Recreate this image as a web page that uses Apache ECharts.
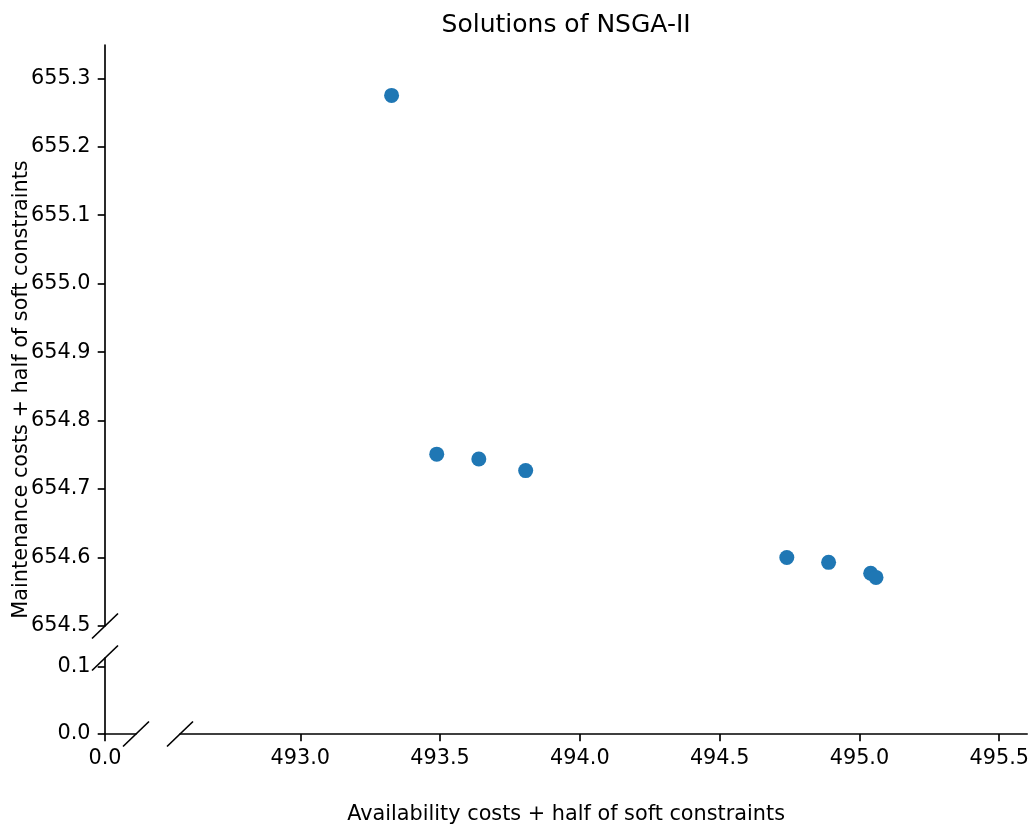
<!DOCTYPE html>
<html>
<head>
<meta charset="utf-8">
<title>Solutions of NSGA-II</title>
<script src="https://cdn.jsdelivr.net/npm/echarts@6/dist/echarts.min.js"></script>
<style>
  html, body { margin: 0; padding: 0; background: #ffffff; }
  #chart { width: 1032px; height: 826px; }
</style>
</head>
<body>
<div id="chart"></div>
<script>
// Pareto front found by NSGA-II
const availability = [493.324, 493.485, 493.635, 493.802, 494.733, 494.882, 495.032, 495.051];
const maintenance  = [655.275, 654.751, 654.744, 654.727, 654.600, 654.593, 654.577, 654.571];

// Tick labels of the broken axes
const xTicksLeft   = [0.0];
const xTicksRight  = [493.0, 493.5, 494.0, 494.5, 495.0, 495.5];
const yTicksBottom = [0.0, 0.1];
const yTicksTop    = [654.5, 654.6, 654.7, 654.8, 654.9, 655.0, 655.1, 655.2, 655.3];

// Ranges of the four panels
const xLeftRange   = [0, 0.1];
const xRightRange  = [492.5697, 495.6];
const yBottomRange = [0, 0.1129];
const yTopRange    = [654.5, 655.3486];

const FONT = 'DejaVu Sans';
const INK = '#000000';
const LINE_W = 1.67;
const TEXT_SIZE = 20.8;

const points = availability.map((x, i) => [x, maintenance[i]]);

function visibleAxis(range, ticks, extra) {
  return Object.assign({
    type: 'value',
    min: range[0],
    max: range[1],
    axisLine: { show: true, onZero: false, lineStyle: { color: INK, width: LINE_W } },
    axisTick: { show: true, inside: false, length: 7.3, lineStyle: { color: INK, width: LINE_W }, customValues: ticks },
    axisLabel: {
      show: true, margin: 14.5, color: INK, fontFamily: FONT, fontSize: TEXT_SIZE,
      customValues: ticks,
      formatter: v => Number(v).toFixed(1)
    },
    splitLine: { show: false }
  }, extra || {});
}

function hiddenAxis(range, extra) {
  return Object.assign({ type: 'value', min: range[0], max: range[1], show: false, splitLine: { show: false } }, extra || {});
}

const chart = echarts.init(document.getElementById('chart'), null, { renderer: 'canvas' });

const option = {
  backgroundColor: '#ffffff',
  animation: false,
  grid: [
    { left: 105, top: 45,  width: 31,  height: 581 },   // upper left
    { left: 105, top: 658, width: 31,  height: 76 },    // lower left
    { left: 180, top: 658, width: 850, height: 76 },    // lower right
    { left: 180, top: 45,  width: 850, height: 581 }    // upper right (data)
  ],
  xAxis: [
    hiddenAxis(xLeftRange, { gridIndex: 0 }),
    visibleAxis(xLeftRange, xTicksLeft, { gridIndex: 1, position: 'bottom' }),
    visibleAxis(xRightRange, xTicksRight, { gridIndex: 2, position: 'bottom' }),
    hiddenAxis(xRightRange, { gridIndex: 3 })
  ],
  yAxis: [
    visibleAxis(yTopRange, yTicksTop, { gridIndex: 0, position: 'left' }),
    visibleAxis(yBottomRange, yTicksBottom, { gridIndex: 1, position: 'left' }),
    hiddenAxis(yBottomRange, { gridIndex: 2 }),
    hiddenAxis(yTopRange, { gridIndex: 3 })
  ],
  series: [{
    type: 'scatter',
    xAxisIndex: 3,
    yAxisIndex: 3,
    data: points,
    symbol: 'circle',
    symbolSize: 15,
    itemStyle: { color: '#1f77b4', opacity: 1 },
    emphasis: { disabled: true }
  }]
};

chart.setOption(option);

// Diagonal break marks where the axes are cut
function slash(c) {
  return {
    type: 'line',
    silent: true,
    shape: { x1: c[0] - 13, y1: c[1] + 12.5, x2: c[0] + 13, y2: c[1] - 12.5 },
    style: { stroke: INK, lineWidth: LINE_W }
  };
}

const breaks = [
  chart.convertToPixel({ xAxisIndex: 0, yAxisIndex: 0 }, [xLeftRange[0], yTopRange[0]]),
  chart.convertToPixel({ xAxisIndex: 1, yAxisIndex: 1 }, [xLeftRange[0], yBottomRange[1]]),
  chart.convertToPixel({ xAxisIndex: 1, yAxisIndex: 1 }, [xLeftRange[1], yBottomRange[0]]),
  chart.convertToPixel({ xAxisIndex: 2, yAxisIndex: 2 }, [xRightRange[0], yBottomRange[0]])
];

const topLeft = chart.convertToPixel({ xAxisIndex: 0, yAxisIndex: 0 }, [xLeftRange[0], yTopRange[1]]);
const bottomRight = chart.convertToPixel({ xAxisIndex: 2, yAxisIndex: 2 }, [xRightRange[1], yBottomRange[0]]);
const centerX = (topLeft[0] + bottomRight[0]) / 2;

chart.setOption({
  graphic: breaks.map(slash).concat([
    {
      type: 'text',
      silent: true,
      x: centerX,
      y: 25,
      style: {
        text: 'Solutions of NSGA-II',
        fontFamily: FONT, fontSize: 25, fill: INK,
        textAlign: 'center', textVerticalAlign: 'middle'
      }
    },
    {
      type: 'text',
      silent: true,
      x: centerX,
      y: 815,
      style: {
        text: 'Availability costs + half of soft constraints',
        fontFamily: FONT, fontSize: TEXT_SIZE, fill: INK,
        textAlign: 'center', textVerticalAlign: 'middle'
      }
    },
    {
      type: 'text',
      silent: true,
      x: 22,
      y: (topLeft[1] + bottomRight[1]) / 2,
      rotation: Math.PI / 2,
      style: {
        text: 'Maintenance costs + half of soft constraints',
        fontFamily: FONT, fontSize: TEXT_SIZE, fill: INK,
        textAlign: 'center', textVerticalAlign: 'middle'
      }
    }
  ])
});
</script>
</body>
</html>
